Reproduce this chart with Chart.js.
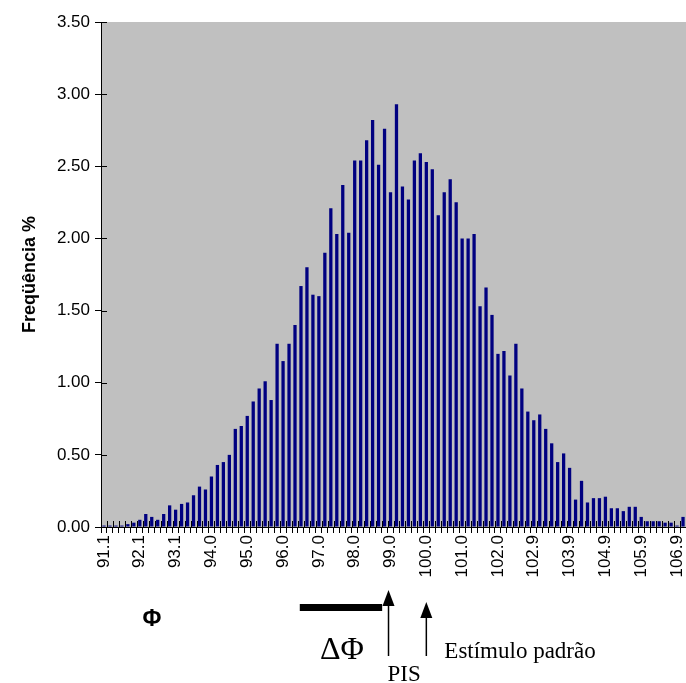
<!DOCTYPE html>
<html>
<head>
<meta charset="utf-8">
<script src="https://cdn.jsdelivr.net/npm/chart.js@4/dist/chart.umd.min.js"></script>
<style>
  html, body { margin: 0; padding: 0; background: #fff; }
  canvas { display: block; }
</style>
</head>
<body>
<canvas id="freq-chart" width="686" height="683"></canvas>
<script>
// axis labels shown every 6th class
const tickLabels = ['91.1', '92.1', '93.1', '94.0', '95.0', '96.0', '97.0', '98.0', '99.0',
  '100.0', '101.0', '102.0', '102.9', '103.9', '104.9', '105.9', '106.9'];
const labelEvery = 6;

// frequency (%) of each Φ class, left to right
const freq = [
  0.01, 0.01, 0.01, 0.01, 0.02, 0.03, 0.05, 0.09, 0.07, 0.05,
  0.09, 0.15, 0.12, 0.16, 0.17, 0.22, 0.28, 0.26, 0.35, 0.43,
  0.45, 0.50, 0.68, 0.70, 0.77, 0.87, 0.96, 1.01, 0.88, 1.27,
  1.15, 1.27, 1.40, 1.67, 1.80, 1.61, 1.60, 1.90, 2.21, 2.03,
  2.37, 2.04, 2.54, 2.54, 2.68, 2.82, 2.51, 2.76, 2.32, 2.93,
  2.36, 2.27, 2.54, 2.59, 2.53, 2.48, 2.16, 2.32, 2.41, 2.25,
  2.00, 2.00, 2.03, 1.53, 1.66, 1.47, 1.20, 1.22, 1.05, 1.27,
  0.96, 0.80, 0.74, 0.78, 0.68, 0.58, 0.45, 0.51, 0.41, 0.19,
  0.32, 0.17, 0.20, 0.20, 0.21, 0.13, 0.13, 0.11, 0.14, 0.14,
  0.07, 0.04, 0.04, 0.04, 0.03, 0.03, 0.01, 0.07
];

// markers under the axis (class labels they point at)
const pisLabel = '99.0';
const padraoLabel = '100.0';
const deltaSpan = [32.8, 46.6]; // ΔΦ bar, in class units

const xLabels = freq.map((v, i) => i % labelEvery === 0 ? tickLabels[i / labelEvery] : '');

const tickFont = { family: "'Liberation Sans', Arial, sans-serif", size: 17 };

const plotBg = {
  id: 'plotBg',
  beforeDraw(chart) {
    const { ctx, chartArea: a } = chart;
    ctx.save();
    ctx.fillStyle = '#c0c0c0';
    ctx.fillRect(a.left, a.top, a.right - a.left, a.bottom - a.top);
    ctx.restore();
  }
};

// inner half of the cross tick marks
const crossTicks = {
  id: 'crossTicks',
  afterDatasetsDraw(chart) {
    const { ctx, chartArea: a, scales: { x, y } } = chart;
    ctx.save();
    ctx.strokeStyle = '#000';
    ctx.lineWidth = 1;
    ctx.beginPath();
    for (let i = 0; i <= freq.length; i++) {
      const px = Math.round(x.getPixelForValue(i - 0.5)) + 0.5;
      ctx.moveTo(px, a.bottom);
      ctx.lineTo(px, a.bottom - 6);
    }
    y.ticks.forEach((t, i) => {
      const py = Math.round(y.getPixelForTick(i)) + 0.5;
      ctx.moveTo(a.left, py);
      ctx.lineTo(a.left + 6, py);
    });
    ctx.stroke();
    ctx.restore();
  }
};

function arrow(ctx, px, tip, base, bottom) {
  ctx.beginPath();
  ctx.moveTo(px, base);
  ctx.lineTo(px, bottom);
  ctx.lineWidth = 1.5;
  ctx.stroke();
  ctx.beginPath();
  ctx.moveTo(px, tip);
  ctx.lineTo(px - 6, base);
  ctx.lineTo(px + 6, base);
  ctx.closePath();
  ctx.fill();
}

const phiNotes = {
  id: 'phiNotes',
  afterDraw(chart) {
    const { ctx, scales: { x } } = chart;
    const xPis = x.getPixelForValue(xLabels.indexOf(pisLabel));
    const xPad = x.getPixelForValue(xLabels.indexOf(padraoLabel));
    const d0 = x.getPixelForValue(deltaSpan[0]);
    const d1 = x.getPixelForValue(deltaSpan[1]);
    ctx.save();
    ctx.fillStyle = '#000';
    ctx.strokeStyle = '#000';

    ctx.fillRect(d0, 604, d1 - d0, 7);
    arrow(ctx, xPis - 2, 590, 606, 656);
    arrow(ctx, xPad, 602, 618, 656);

    ctx.font = "bold 23px 'Liberation Sans', Arial, sans-serif";
    ctx.textAlign = 'center';
    ctx.textBaseline = 'middle';
    ctx.fillText('Φ', 152, 620);

    ctx.font = "32px 'Liberation Serif', 'Times New Roman', serif";
    ctx.textBaseline = 'alphabetic';
    ctx.fillText('ΔΦ', (d0 + d1) / 2 + 1, 659);

    ctx.font = "23px 'Liberation Serif', 'Times New Roman', serif";
    ctx.textAlign = 'left';
    ctx.fillText('PIS', xPis - 3, 681);
    ctx.fillText('Estímulo padrão', xPad + 18, 658);
    ctx.restore();
  }
};

new Chart(document.getElementById('freq-chart'), {
  type: 'bar',
  data: {
    labels: xLabels,
    datasets: [{
      data: freq,
      backgroundColor: '#000080',
      categoryPercentage: 1,
      barPercentage: 0.55
    }]
  },
  options: {
    responsive: false,
    animation: false,
    layout: { padding: { top: 22, right: 0, bottom: 0, left: 0 } },
    plugins: { legend: { display: false }, tooltip: { enabled: false } },
    scales: {
      x: {
        grid: { drawOnChartArea: false, tickLength: 6, color: '#000', offset: true },
        border: { color: '#000', width: 1 },
        ticks: { autoSkip: false, minRotation: 90, maxRotation: 90, padding: 2, color: '#000', font: tickFont },
        afterFit(scale) {
          scale.height = 156;
          scale.paddingLeft = 0;
          scale.paddingRight = 0;
        }
      },
      y: {
        min: 0,
        max: 3.5,
        grid: { drawOnChartArea: false, tickLength: 6, color: '#000' },
        border: { color: '#000', width: 1 },
        ticks: { stepSize: 0.5, padding: 5, color: '#000', font: tickFont, callback: v => v.toFixed(2) },
        title: {
          display: true,
          text: 'Freqüência %',
          color: '#000',
          font: { family: "'Liberation Sans', Arial, sans-serif", size: 18, weight: 'bold' },
          padding: { top: 19, bottom: 0 }
        },
        afterFit(scale) { scale.width = 101; }
      }
    }
  },
  plugins: [plotBg, crossTicks, phiNotes]
});
</script>
</body>
</html>
